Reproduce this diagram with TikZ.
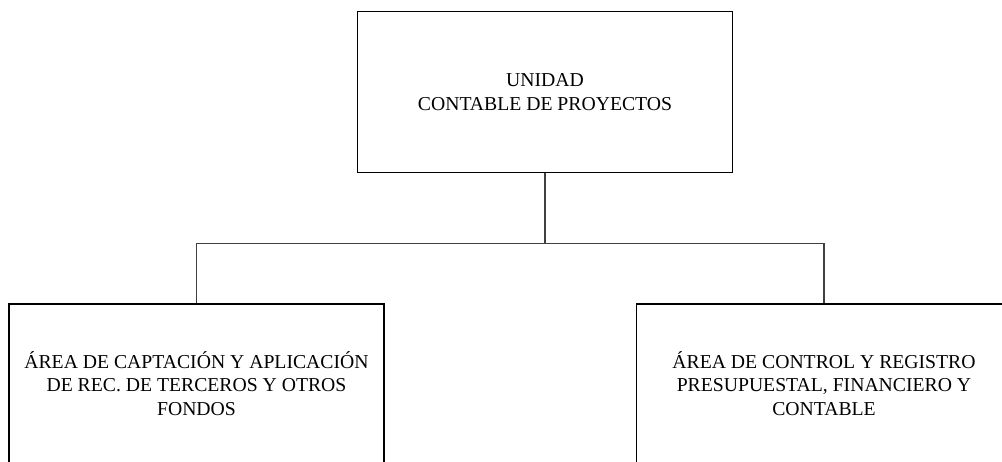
\documentclass[tikz,border=0pt]{standalone}
\usepackage{fontspec}
\setmainfont{Liberation Serif}
\begin{document}
\begin{tikzpicture}[x=1pt,y=-1pt,
  box/.style={draw=black, line width=1.2pt, inner sep=0pt, align=center,
    minimum width=375pt, font=\fontsize{19.7}{23.5}\selectfont},
  link/.style={draw=black!75, line width=1.4pt}]
\useasboundingbox (0,0) rectangle (1002,462);
\clip (0,0) rectangle (1002,462);
\node[box, minimum height=161pt] (top) at (545,92) {UNIDAD\\CONTABLE DE PROYECTOS};
\node[box, minimum height=159pt] (left) at (196.5,383.5) {ÁREA DE CAPTACIÓN Y APLICACIÓN\\DE REC. DE TERCEROS Y OTROS\\FONDOS};
\node[box, minimum height=159pt] (right) at (824,383.5) {ÁREA DE CONTROL Y REGISTRO\\PRESUPUESTAL, FINANCIERO Y\\CONTABLE};
\coordinate (j) at (545,243.3);
\draw[link] (top.south) -- (j);
\draw[link] (left.north) |- (j) -| (right.north);
\end{tikzpicture}
\end{document}
